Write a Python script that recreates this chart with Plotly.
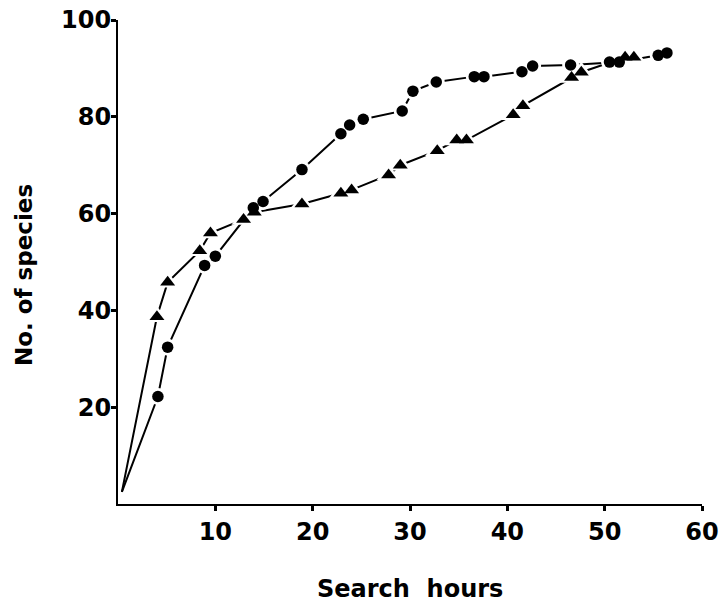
import plotly.graph_objects as go

# Search effort (hours) vs cumulative number of species
tri_x = [0.4, 4.0, 5.1, 8.4, 9.5, 12.9, 14.0, 18.9, 22.9, 24.0, 27.8, 29.0,
         32.8, 34.8, 35.8, 40.6, 41.6, 46.6, 47.6, 52.1, 53.0]
tri_y = [2.5, 38.7, 45.8, 52.3, 56.0, 58.8, 60.3, 62.0, 64.2, 64.9, 68.0, 70.0,
         73.0, 75.2, 75.2, 80.4, 82.3, 88.1, 89.2, 92.3, 92.3]

circ_x = [0.4, 4.1, 5.1, 8.9, 10.0, 13.9, 14.9, 18.9, 22.9, 23.8, 25.2, 29.2,
          30.3, 32.7, 36.6, 37.6, 41.5, 42.6, 46.5, 50.5, 51.5, 55.5, 56.4]
circ_y = [2.5, 22.2, 32.4, 49.3, 51.2, 61.2, 62.5, 69.1, 76.5, 78.3, 79.5, 81.2,
          85.3, 87.2, 88.3, 88.3, 89.3, 90.5, 90.7, 91.3, 91.3, 92.7, 93.2]

x_ticks = [10, 20, 30, 40, 50, 60]
y_ticks = [20, 40, 60, 80, 100]
x_title = "Search  hours"
y_title = "No. of species"

FONT = "DejaVu Sans"
fig = go.Figure()

# lines
for xs, ys in [(tri_x, tri_y), (circ_x, circ_y)]:
    fig.add_trace(go.Scatter(x=xs, y=ys, mode="lines",
                             line=dict(color="black", width=2),
                             hoverinfo="skip", showlegend=False))
# white halos (gaps around markers)
fig.add_trace(go.Scatter(x=tri_x[1:], y=tri_y[1:], mode="markers",
                         marker=dict(symbol="triangle-up", size=21, color="white"),
                         hoverinfo="skip", showlegend=False))
fig.add_trace(go.Scatter(x=circ_x[1:], y=circ_y[1:], mode="markers",
                         marker=dict(symbol="circle", size=17, color="white"),
                         hoverinfo="skip", showlegend=False))
# black markers
fig.add_trace(go.Scatter(x=tri_x[1:], y=tri_y[1:], mode="markers",
                         marker=dict(symbol="triangle-up", size=13, color="black"),
                         showlegend=False))
fig.add_trace(go.Scatter(x=circ_x[1:], y=circ_y[1:], mode="markers",
                         marker=dict(symbol="circle", size=11.5, color="black"),
                         showlegend=False))

tickfont = dict(family=FONT, size=24, color="black", weight="bold")

fig.update_layout(
    width=722, height=603,
    margin=dict(l=118, r=20, t=20, b=99, autoexpand=False),
    paper_bgcolor="white", plot_bgcolor="white",
    xaxis=dict(range=[0, 60], tickvals=x_ticks, ticks="outside", ticklen=5,
               tickwidth=2.5, tickcolor="black", showline=True, linecolor="black",
               linewidth=2, showgrid=False, zeroline=False, tickfont=tickfont,
               ticklabelstandoff=0, automargin=False, ticklabeloverflow="allow"),
    yaxis=dict(range=[0, 100], tickvals=y_ticks, ticks="outside", ticklen=5,
               tickwidth=2.5, tickcolor="black", showline=True, linecolor="black",
               linewidth=2, showgrid=False, zeroline=False, tickfont=tickfont,
               ticklabelstandoff=-5, automargin=False, ticklabeloverflow="allow"),
    xaxis2=dict(range=[0, 60], overlaying="x", matches="x", anchor="y", side="bottom",
                tickvals=x_ticks, ticks="inside", ticklen=5, tickwidth=2.5,
                tickcolor="black", showticklabels=False, showline=False,
                showgrid=False, zeroline=False, automargin=False),
    yaxis2=dict(range=[0, 100], overlaying="y", matches="y", anchor="x", side="left",
                tickvals=y_ticks, ticks="inside", ticklen=5, tickwidth=2.5,
                tickcolor="black", showticklabels=False, showline=False,
                showgrid=False, zeroline=False, automargin=False),
    annotations=[
        dict(text=x_title, xref="paper", yref="paper", x=0.5, y=-0.176,
             xanchor="center", yanchor="middle", showarrow=False,
             font=dict(family=FONT, size=24, color="black", weight="bold")),
        dict(text=y_title, xref="paper", yref="paper", x=-0.161, y=0.473,
             xanchor="center", yanchor="middle", showarrow=False, textangle=-90,
             font=dict(family=FONT, size=23, color="black", weight="bold")),
    ],
)

fig.write_html("out.html",
               config={"displayModeBar": False},
               post_script="document.body.style.margin='0px';")
